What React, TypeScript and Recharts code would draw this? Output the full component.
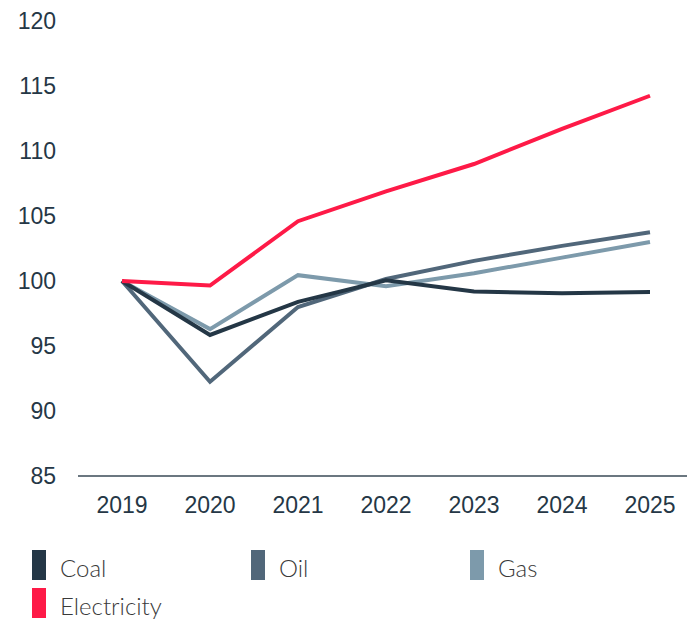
import React from "react";
import { LineChart, Line, XAxis, YAxis } from "recharts";

const years = ["2019", "2020", "2021", "2022", "2023", "2024", "2025"];
const coal = [100, 95.85, 98.4, 100.05, 99.2, 99.05, 99.15];
const oil = [100, 92.25, 98.0, 100.15, 101.55, 102.7, 103.75];
const gas = [100, 96.3, 100.45, 99.6, 100.6, 101.8, 103.0];
const electricity = [100, 99.65, 104.6, 106.9, 109.0, 111.7, 114.25];
const yTicks = [85, 90, 95, 100, 105, 110, 115, 120];

const COLOURS = {
  Coal: "#243746",
  Oil: "#51677a",
  Gas: "#7d9aab",
  Electricity: "#fe1a47",
};

const TEXT = "#253746";
const AXIS = "#6b7780";
const TICK_FONT = "'Liberation Sans', Arial, sans-serif";
const LEGEND_FONT = "Lato, 'Noto Sans', sans-serif";

const data = years.map((year, i) => ({
  year,
  Coal: coal[i],
  Oil: oil[i],
  Gas: gas[i],
  Electricity: electricity[i],
}));

function LegendItem({ name, left, top }: { name: keyof typeof COLOURS; left: number; top: number }) {
  return (
    <div style={{ position: "absolute", left, top, height: 30, display: "flex", alignItems: "center" }}>
      <div style={{ width: 14, height: 30, background: COLOURS[name] }} />
      <span
        style={{
          marginLeft: 14,
          fontFamily: LEGEND_FONT,
          fontWeight: 300,
          fontSize: 24,
          color: "#3a3a3a",
          lineHeight: "30px",
          position: "relative",
          top: 3,
        }}
      >
        {name}
      </span>
    </div>
  );
}

export default function App() {
  return (
    <div style={{ position: "absolute", left: 0, top: 0, width: 687, height: 621, background: "#fff" }}>
      <LineChart width={687} height={530} data={data} margin={{ top: 21, right: 0, bottom: 0, left: 0 }}>
        <XAxis
          dataKey="year"
          padding={{ left: 44, right: 37 }}
          height={54}
          tickLine={false}
          tickSize={0}
          tickMargin={21}
          axisLine={{ stroke: AXIS, strokeWidth: 2 }}
          tick={{ fontSize: 23, fill: TEXT, fontFamily: TICK_FONT }}
        />
        <YAxis
          domain={[85, 120]}
          ticks={yTicks}
          width={78}
          tickLine={false}
          tickSize={0}
          tickMargin={22}
          axisLine={false}
          tick={{ fontSize: 23, fill: TEXT, fontFamily: TICK_FONT }}
        />
        <Line dataKey="Gas" stroke={COLOURS.Gas} strokeWidth={4} dot={false} isAnimationActive={false} />
        <Line dataKey="Oil" stroke={COLOURS.Oil} strokeWidth={4} dot={false} isAnimationActive={false} />
        <Line dataKey="Coal" stroke={COLOURS.Coal} strokeWidth={4} dot={false} isAnimationActive={false} />
        <Line dataKey="Electricity" stroke={COLOURS.Electricity} strokeWidth={4} dot={false} isAnimationActive={false} />
      </LineChart>
      <LegendItem name="Coal" left={32} top={550} />
      <LegendItem name="Oil" left={251} top={550} />
      <LegendItem name="Gas" left={470} top={550} />
      <LegendItem name="Electricity" left={32} top={588} />
    </div>
  );
}
